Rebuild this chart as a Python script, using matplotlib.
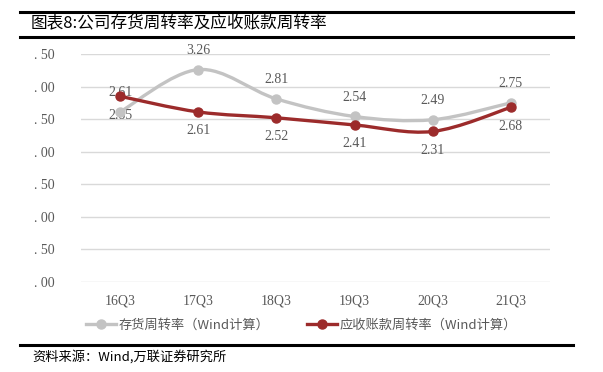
import numpy as np
import matplotlib
matplotlib.use('Agg')
import matplotlib.pyplot as plt
from matplotlib.path import Path
from matplotlib.patches import PathPatch
from matplotlib.lines import Line2D
from matplotlib.ticker import FuncFormatter

plt.rcParams['font.family'] = ['Noto Sans CJK SC', 'DejaVu Sans']

# data
quarters = ['16Q3', '17Q3', '18Q3', '19Q3', '20Q3', '21Q3']
inventory_turnover = [2.61, 3.26, 2.81, 2.54, 2.49, 2.75]
receivable_turnover = [2.85, 2.61, 2.52, 2.41, 2.31, 2.68]
inv_label = '存货周转率（Wind计算）'
rec_label = '应收账款周转率（Wind计算）'
title = '图表8:公司存货周转率及应收账款周转率'
source = '资料来源：Wind,万联证券研究所'

gray = '#c3c3c3'
red = '#9c2b2b'
txt = '#595959'


def smooth_path(xs, ys, k=1 / 6):
    # catmull-rom style bezier path through the points (Excel "smoothed line")
    pts = np.column_stack([xs, ys]).astype(float)
    verts = [pts[0]]
    codes = [Path.MOVETO]
    n = len(pts)
    for i in range(n - 1):
        p0 = pts[max(i - 1, 0)]
        p1 = pts[i]
        p2 = pts[i + 1]
        p3 = pts[min(i + 2, n - 1)]
        c1 = p1 + (p2 - p0) * k
        c2 = p2 - (p3 - p1) * k
        verts += [c1, c2, p2]
        codes += [Path.CURVE4] * 3
    return Path(verts, codes)


fig = plt.figure(figsize=(6.03, 3.72), dpi=100)
ax = fig.add_axes([0.1343, 0.242, 0.912 - 0.1343, 0.855 - 0.242])

x = np.arange(len(quarters))
for vals, col in [(inventory_turnover, gray), (receivable_turnover, red)]:
    ax.add_patch(PathPatch(smooth_path(x, vals), facecolor='none', edgecolor=col,
                           lw=2.4, zorder=3, capstyle='round'))
    ax.plot(x, vals, 'o', color=col, ms=6.5, zorder=4)

for xi, v in zip(x, inventory_turnover):
    ax.annotate('%.2f' % v, (xi, v), xytext=(0, 9), textcoords='offset points',
                ha='center', va='bottom', fontsize=10, color=txt, family='Liberation Serif')
for xi, v in zip(x, receivable_turnover):
    ax.annotate('%.2f' % v, (xi, v), xytext=(0, -9), textcoords='offset points',
                ha='center', va='top', fontsize=10, color=txt, family='Liberation Serif')

ax.set_xlim(-0.5, 5.5)
ax.set_ylim(0, 3.5)
ax.set_yticks(np.arange(0, 3.51, 0.5))
ax.yaxis.set_major_formatter(FuncFormatter(lambda v, p: '. %02d' % round((v % 1) * 100)))
ax.set_xticks(x)
ax.set_xticklabels(quarters)
ax.grid(axis='y', color='#d9d9d9', lw=1)
ax.set_axisbelow(True)
for s in ax.spines.values():
    s.set_visible(False)
ax.tick_params(length=0, colors=txt, labelsize=10)
for lab in ax.get_xticklabels() + ax.get_yticklabels():
    lab.set_family('Liberation Serif')
ax.tick_params(axis='x', pad=9)
ax.tick_params(axis='y', pad=19)

handles = [Line2D([], [], color=gray, lw=2.4, marker='o', ms=6.5),
           Line2D([], [], color=red, lw=2.4, marker='o', ms=6.5)]
fig.legend(handles, [inv_label, rec_label], loc='center', bbox_to_anchor=(0.5, 0.126),
           ncol=2, frameon=False, fontsize=9.5, labelcolor=txt, handlelength=2.3,
           handletextpad=0.2, columnspacing=2.8)

# title block and source
fig.add_artist(Line2D([0.033, 0.95], [0.968, 0.968], color='black', lw=2.2))
fig.add_artist(Line2D([0.033, 0.95], [0.9, 0.9], color='black', lw=2.2))
fig.add_artist(Line2D([0.033, 0.95], [0.073, 0.073], color='black', lw=2.2))
fig.text(0.05, 0.935, title, fontsize=12, va='center', ha='left', color='black')
fig.text(0.053, 0.04, source, fontsize=9.5, va='center', ha='left', style='italic', color='black')

fig.savefig('out.png', dpi=100)
